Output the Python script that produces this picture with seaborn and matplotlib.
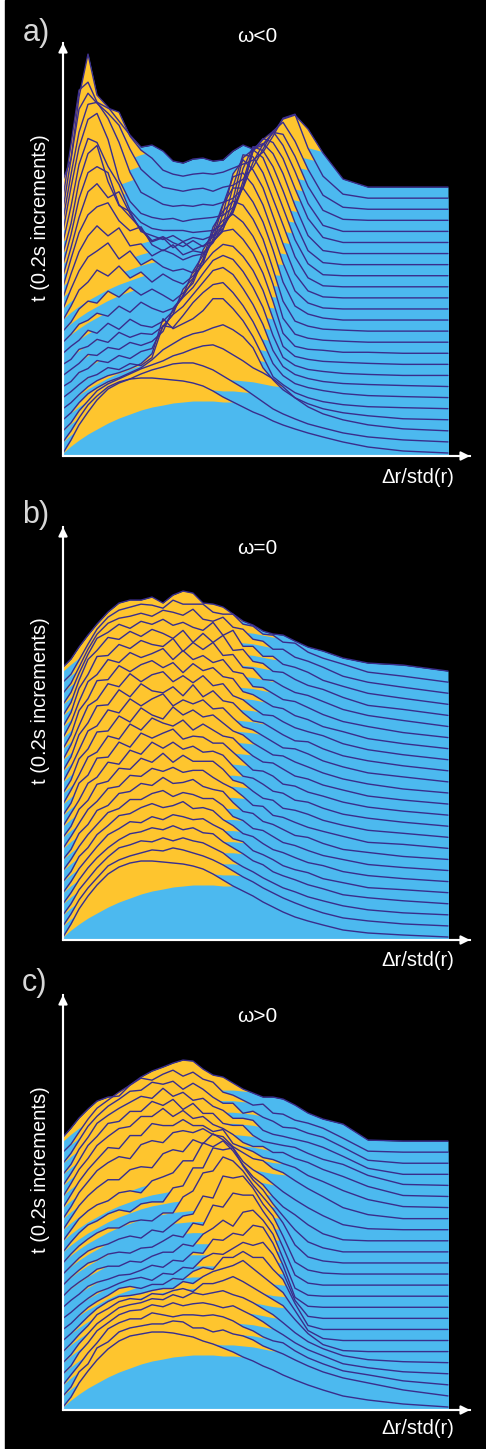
import matplotlib
matplotlib.use("Agg")
import matplotlib.pyplot as plt
from matplotlib.patches import Rectangle
import numpy as np
import seaborn as sns

# x samples, increasing along dr/std(r)
dr_grid = [0, .08, .16, .25, .34, .45, .56, .67, .78, .89, 1.0, 1.1, 1.2, 1.3, 1.4, 1.5, 1.6, 1.7, 1.8, 1.9,
           2.0, 2.1, 2.2, 2.32, 2.45, 2.6, 2.8, 3.05, 3.4, 3.85]

# t=0 profile, lower edge of the orange part
start_profile = [0, 7, 13, 19, 24, 30, 35, 39, 43, 46, 48, 50, 51, 52, 52, 52, 51, 51, 50, 49, 47, 45, 44, 42, 39, 35, 27, 18, 8, 1]

# panel a, w<0
a00 = [0,13,28,41,53,64,70,74,75,75,74,73,72,70,67,62,56,51,46,41,37,32,28,24,20,16,11,6,2,0]
a01 = [0,11,24,37,46,55,60,63,68,72,75,78,79,79,76,72,66,60,54,47,40,33,28,23,18,14,9,5,2,0]
a02 = [0,8,20,30,40,47,52,57,62,66,70,75,78,82,85,86,82,76,70,63,58,52,44,33,24,17,11,6,2,0]
a03 = [0,7,17,26,32,38,42,47,52,60,70,76,82,86,88,92,95,90,83,72,52,40,30,22,16,11,7,4,1,0]
a04 = [0,6,14,22,28,33,36,40,45,55,90,80,85,90,98,110,110,100,88,72,52,32,24,16,11,7,4,2,1,0]
a05 = [0,6,13,20,23,30,28,34,32,40,72,70,82,95,105,113,115,105,92,76,56,34,22,14,10,7,4,2,1,0]
a06 = [0,5,14,18,26,24,31,28,35,38,60,72,80,92,104,116,119,112,98,82,62,36,20,12,8,5,3,2,1,0]
a07 = [0,6,12,21,20,28,26,33,30,34,44,66,78,88,102,115,120,116,104,88,68,40,18,10,6,4,2,1,0,0]
a08 = [0,5,15,18,25,22,32,27,31,30,38,50,75,86,100,112,120,118,108,94,74,46,18,8,5,3,2,1,0,0]
a09 = [0,7,13,23,20,30,24,34,28,26,32,42,58,82,98,112,122,124,114,100,80,52,20,7,4,3,1,1,0,0]
a10 = [0,8,18,22,29,26,36,30,40,34,30,34,46,62,92,110,122,128,120,106,86,58,24,8,4,2,1,0,0,0]
a11 = [0,9,22,30,28,40,34,44,36,42,36,30,38,48,72,104,120,130,126,112,92,62,30,10,5,2,1,0,0,0]
a12 = [0,14,30,38,50,44,54,42,48,38,46,40,36,44,56,88,116,132,132,118,98,70,38,14,6,2,0,0,0,0]
a13 = [0,20,38,52,58,66,50,58,44,50,42,38,40,36,48,70,104,132,136,124,104,76,46,18,6,1,0,0,0,0]
a14 = [0,24,46,62,72,62,70,52,54,42,48,44,38,42,44,56,84,124,138,128,110,82,54,24,7,1,0,0,0,0]
a15 = [0,28,54,72,80,84,66,56,60,42,36,42,32,36,34,44,62,100,132,130,114,88,62,30,9,1,0,0,0,0]
a16 = [0,28,58,84,92,78,84,62,46,34,38,28,34,26,30,34,46,76,118,126,118,94,68,36,12,1,0,0,0,0]
a17 = [0,30,66,92,98,92,60,48,36,24,28,22,18,24,18,28,36,56,96,118,114,98,74,42,14,2,0,0,0,0]
a18 = [0,30,72,100,108,72,48,42,22,18,14,18,12,16,14,18,28,42,72,106,110,100,80,48,18,3,0,0,0,0]
a19 = [0,36,78,104,100,76,58,32,20,14,12,12,12,10,11,12,18,30,56,92,104,100,84,54,24,5,0,0,0,0]
a20 = [0,44,84,112,118,92,52,30,18,14,12,13,10,12,13,14,16,24,44,80,92,100,86,60,28,6,0,0,0,0]
a21 = [0,46,88,116,118,102,78,48,28,22,16,14,15,14,16,15,18,22,32,58,76,88,86,64,34,10,1,0,0,0]
a22 = [0,50,100,116,106,96,84,60,40,30,22,20,18,20,21,18,22,24,30,42,60,78,87,68,40,14,2,0,0,0]
a23 = [0,54,108,116,96,90,86,62,48,40,28,24,22,24,25,24,26,30,34,38,46,62,80,84,50,22,4,0,0,0]
a24 = [7,28,90,133,92,80,66,52,40,42,36,26,24,28,29,26,27,36,42,38,42,54,68,72,58,34,8,0,0,0]

# panel b, w=0
b00 = [0,13,28,41,52,63,70,74,76,76,75,74,73,71,68,63,57,51,46,41,35,30,25,20,16,12,7,4,2,0]
b01 = [0,12,26,38,48,60,66,70,73,76,75,78,76,73,70,66,61,55,49,44,38,33,28,23,18,13,8,5,2,0]
b02 = [0,11,25,36,47,58,67,70,74,73,77,74,77,74,72,67,62,54,48,43,37,32,27,23,18,14,9,5,2,0]
b03 = [0,11,24,36,46,56,64,70,72,76,74,78,74,76,71,70,62,56,50,43,39,32,28,24,19,15,9,6,3,0]
b04 = [0,11,24,35,46,58,64,71,70,76,73,78,76,73,74,68,63,54,51,42,38,33,27,23,20,14,10,5,3,0]
b05 = [0,10,25,34,47,56,66,68,74,78,74,76,80,73,74,71,62,56,48,45,38,32,29,24,19,16,10,6,3,0]
b06 = [0,11,24,36,46,58,62,71,71,77,80,74,78,76,72,72,65,54,50,42,40,34,28,25,20,15,11,6,3,0]
b07 = [0,10,26,35,49,54,66,68,76,74,82,76,77,80,73,70,68,57,48,46,38,35,30,24,22,16,10,7,3,0]
b08 = [0,12,25,39,47,60,62,73,72,80,77,81,76,78,78,71,65,60,52,43,42,33,31,26,21,17,12,6,4,0]
b09 = [0,11,28,37,53,56,69,68,79,75,84,75,82,76,76,76,68,57,54,46,39,37,29,27,23,17,12,7,4,0]
b10 = [0,13,26,43,49,64,62,76,72,84,78,84,77,80,74,75,71,60,50,48,42,35,33,26,24,18,12,8,4,0]
b11 = [0,12,32,40,57,58,73,68,82,77,82,86,76,79,78,72,72,63,54,45,44,39,31,29,23,19,13,8,4,0]
b12 = [0,14,29,47,52,68,65,80,74,86,81,78,84,74,80,74,68,66,56,48,42,41,35,28,25,19,14,8,4,0]
b13 = [0,13,34,44,61,62,77,71,85,78,74,86,78,83,76,78,70,62,58,50,44,38,37,31,26,20,14,9,4,0]
b14 = [0,15,32,51,56,72,69,83,76,83,88,76,82,78,82,73,74,64,55,52,46,40,34,33,28,21,15,9,5,0]
b15 = [0,14,36,48,65,66,81,74,87,80,78,84,75,86,74,80,70,68,58,50,48,42,36,30,29,22,15,10,5,0]
b16 = [0,15,34,54,60,76,73,86,78,85,88,78,84,77,84,74,76,64,60,52,45,44,38,32,28,24,16,10,5,0]
b17 = [0,14,38,50,68,69,83,77,84,88,81,86,76,85,78,81,72,70,57,54,48,42,40,33,29,22,17,10,5,0]
b18 = [0,15,36,56,63,78,75,85,80,84,89,78,87,78,82,75,78,66,64,51,50,44,38,36,30,23,16,11,5,0]
b19 = [0,14,38,52,70,71,82,78,86,82,80,88,75,84,77,84,71,72,59,58,47,46,40,34,31,25,17,11,6,0]
b20 = [0,13,35,56,65,78,76,84,79,86,82,77,85,73,82,73,80,65,66,54,52,44,43,36,30,26,18,10,6,0]
b21 = [0,12,31,50,66,72,80,76,83,80,85,79,82,77,74,82,69,74,58,58,48,48,40,37,32,24,18,11,6,0]
b22 = [0,10,26,44,59,70,75,77,80,77,83,81,78,84,74,72,76,66,64,54,52,44,44,36,32,26,17,11,6,0]
b23 = [0,8,22,38,53,65,72,75,78,77,74,82,78,78,78,70,68,68,58,56,48,47,40,39,30,24,18,10,6,0]
b24 = [4,12,24,36,47,59,68,71,71,74,68,76,80,78,68,67,64,57,50,46,40,37,36,30,24,20,13,8,6,0]

# panel c, w>0
c00 = [0,10,24,36,47,58,66,71,73,75,75,74,72,70,66,63,59,55,50,46,41,37,32,27,22,17,11,7,3,0]
c01 = [0,9,24,32,48,54,64,68,70,72,72,75,74,68,68,64,66,62,60,56,50,46,42,36,30,24,18,13,6,0]
c02 = [0,10,20,32,42,56,62,66,66,72,70,68,70,70,69,70,68,64,58,54,48,44,42,34,27,21,14,10,4,0]
c03 = [0,8,21,31,43,51,59,63,64,69,67,71,68,70,71,69,66,68,63,58,52,45,39,31,24,18,10,6,2,0]
c04 = [0,8,19,29,39,47,55,58,60,64,63,68,65,70,68,70,72,68,65,60,54,48,40,30,21,14,7,3,1,0]
c05 = [0,8,17,26,37,43,50,53,52,58,57,61,63,60,68,68,71,75,70,64,58,52,46,32,18,7,1,0,0,0]
c06 = [0,7,15,24,32,39,44,45,47,50,52,52,59,57,64,69,72,75,80,72,64,56,48,30,10,2,0,0,0,0]
c07 = [0,6,14,22,28,34,41,43,41,45,45,51,50,58,62,60,72,72,78,72,72,60,50,26,4,0,0,0,0,0]
c08 = [0,6,13,20,26,30,35,39,41,38,45,44,51,50,60,65,64,70,76,73,76,64,46,18,2,0,0,0,0,0]
c09 = [0,7,13,21,25,28,32,33,37,42,40,47,46,55,54,68,67,74,72,82,80,64,42,10,1,0,0,0,0,0]
c10 = [0,8,14,20,27,30,30,35,34,40,44,44,52,50,62,68,76,70,84,86,76,62,38,8,1,0,0,0,0,0]
c11 = [0,8,15,22,25,31,33,32,37,38,44,50,48,62,60,80,78,92,90,90,74,60,38,10,2,0,0,0,0,0]
c12 = [0,8,16,23,27,30,35,38,36,44,42,50,58,60,78,76,98,96,98,86,70,58,38,12,4,1,0,0,0,0]
c13 = [0,9,17,24,30,35,35,41,43,42,50,50,66,72,90,92,106,102,92,78,66,54,40,18,6,2,0,0,0,0]
c14 = [0,10,19,27,31,38,42,40,48,50,50,64,66,84,84,104,102,104,86,72,62,48,36,22,10,4,0,0,0,0]
c15 = [0,11,22,30,36,40,48,50,48,60,64,68,80,80,98,94,100,90,76,64,56,44,34,26,16,7,1,0,0,0]
c16 = [0,12,24,34,42,50,50,60,63,62,76,80,78,90,86,96,90,82,68,60,54,46,38,30,22,14,5,1,0,0]
c17 = [0,12,26,37,48,56,62,60,74,78,76,86,88,86,90,84,82,72,66,60,58,50,46,38,30,22,11,4,0,0]
c18 = [0,13,26,38,48,60,59,72,72,84,82,82,88,82,82,76,78,64,60,56,50,48,44,40,32,26,17,8,1,0]
c19 = [0,13,27,38,51,60,68,70,80,80,88,80,86,78,80,72,68,62,54,50,50,44,44,38,34,27,20,10,1,0]
c20 = [0,12,25,40,49,62,64,74,74,84,80,86,76,82,72,72,62,60,60,50,44,42,40,38,32,26,21,10,1,0]
c21 = [0,10,25,37,51,59,66,72,78,76,86,78,82,74,76,68,64,56,56,54,44,40,38,35,32,27,18,6,0,0]
c22 = [0,10,23,37,47,57,64,72,73,81,79,82,74,80,74,66,60,60,50,52,46,42,36,35,30,26,16,3,0,0]
c23 = [0,8,20,33,44,52,60,67,74,72,78,82,76,80,73,70,60,57,52,47,48,39,38,32,29,24,14,1,0,0]
c24 = [4,13,23,32,40,44,45,56,64,70,74,78,81,80,72,66,64,58,52,48,44,44,42,36,28,22,17,1,0,0]

series_a = [a00,a01,a02,a03,a04,a05,a06,a07,a08,a09,a10,a11,a12,a13,a14,a15,a16,a17,a18,a19,a20,a21,a22,a23,a24]
series_b = [b00,b01,b02,b03,b04,b05,b06,b07,b08,b09,b10,b11,b12,b13,b14,b15,b16,b17,b18,b19,b20,b21,b22,b23,b24]
series_c = [c00,c01,c02,c03,c04,c05,c06,c07,c08,c09,c10,c11,c12,c13,c14,c15,c16,c17,c18,c19,c20,c21,c22,c23,c24]

panel_letters = ['a)', 'b)', 'c)']
panel_titles = ['\u03c9<0', '\u03c9=0', '\u03c9>0']

BLUE = '#4cb9ef'
ORANGE = '#fec52e'
LINE = '#3a2d8c'
W, H = 486, 1449
STEP = 11.08  # vertical shift per 0.2s

sns.set_theme(style='dark')
plt.rcParams['font.family'] = ['Liberation Sans', 'DejaVu Sans']

fig = plt.figure(figsize=(W / 100, H / 100), dpi=100, facecolor='white')
fig.add_artist(Rectangle((5 / W, 0), 1 - 5 / W, 1, transform=fig.transFigure, color='black', zorder=-5))


def put(x, y, s, **kw):
    fig.text(x / W, 1 - y / H, s, ha='center', va='center', color=kw.pop('color', 'white'), **kw)


def draw_panel(series, top, bottom):
    ax = fig.add_axes([63 / W, 1 - bottom / H, 407 / W, (bottom - top) / H])
    ax.set_facecolor('none')
    ax.set_xlim(0, 4.07)
    ax.set_ylim(-3, bottom - top - 3)
    ax.set_xticks([])
    ax.set_yticks([])
    ax.grid(False)
    for name in ['top', 'right']:
        ax.spines[name].set_visible(False)
    for name in ['left', 'bottom']:
        ax.spines[name].set_color('white')
        ax.spines[name].set_linewidth(1.5)
    x = np.array(dr_grid)
    profile = np.array(start_profile, dtype=float)
    # back to front so nearer times hide the later ones
    for i in range(len(series) - 1, -1, -1):
        y = np.array(series[i], dtype=float) + i * STEP
        low = profile + i * STEP
        ax.fill_between(x, y, -3, color=BLUE, lw=0)
        ax.fill_between(x, y, low, where=y >= low, interpolate=True, color=ORANGE, lw=0)
        sns.lineplot(x=x, y=y, ax=ax, color=LINE, linewidth=1.0, legend=False, estimator=None)
    ax.set_xlabel('')
    ax.set_ylabel('')
    for end in [(1, 0), (0, 1)]:
        ax.annotate('', xy=end, xytext=(0, 0), xycoords='axes fraction',
                    arrowprops=dict(arrowstyle='-|>', color='white', lw=1.5, mutation_scale=13,
                                    shrinkA=0, shrinkB=0), annotation_clip=False)


draw_panel(series_a, 43, 456)
draw_panel(series_b, 527, 940)
draw_panel(series_c, 995, 1410)

for letter, title, ly, lx, ty, yl, xl in zip(panel_letters, panel_titles, [33, 515, 983], [36, 36, 34],
                                            [37, 548, 1017], [218, 701, 1170], [477, 960, 1428]):
    put(lx, ly, letter, fontsize=22, color='#d8d8d8')
    put(257, ty, title, fontsize=15)
    put(41, yl, 't (0.2s increments)', fontsize=14.5, rotation=90)
    put(418, xl, '\u0394r/std(r)', fontsize=14.5)

fig.savefig('out.png', dpi=100, facecolor=fig.get_facecolor())
